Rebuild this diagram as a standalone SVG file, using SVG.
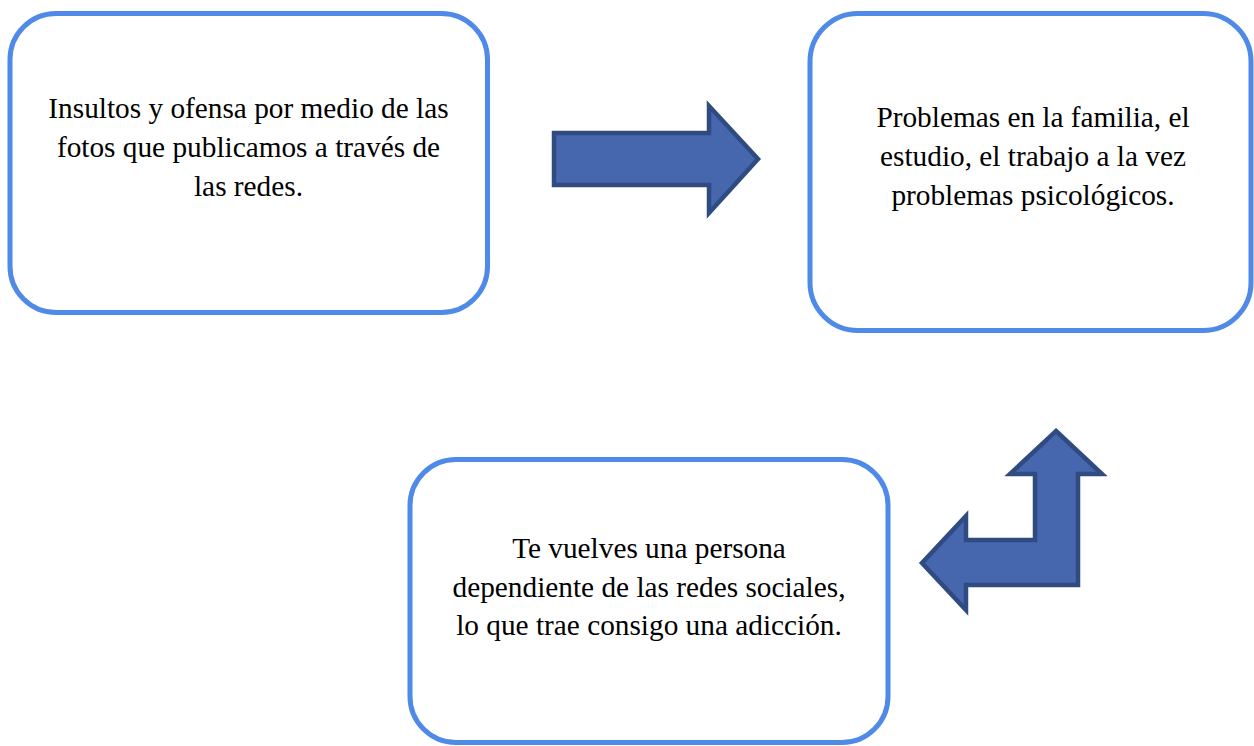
<svg xmlns="http://www.w3.org/2000/svg" width="1254" height="746" viewBox="0 0 1254 746">
<style>
.box{fill:#ffffff;stroke:#4f8ae8;stroke-width:5}
.arr{fill:#4666ad;stroke:#2f4b82;stroke-width:4.5;stroke-linejoin:miter}
.t{font-family:"Liberation Serif","Times New Roman",serif;font-size:29.3px;fill:#000;text-anchor:middle}
</style>
<rect width="1254" height="746" fill="#ffffff"/>
<g id="node1">
<rect class="box" x="10" y="13.5" width="477.5" height="299" rx="46" ry="46"/>
<text class="t"><tspan x="248.5" y="118">Insultos y ofensa por medio de las</tspan><tspan x="248.5" y="157">fotos que publicamos a través de</tspan><tspan x="248.5" y="196">las redes.</tspan></text>
</g>
<g id="node2">
<rect class="box" x="810" y="13.5" width="441" height="317" rx="48" ry="48"/>
<text class="t"><tspan x="1033" y="127">Problemas en la familia, el</tspan><tspan x="1033" y="166">estudio, el trabajo a la vez</tspan><tspan x="1033" y="205">problemas psicológicos.</tspan></text>
</g>
<g id="node3">
<rect class="box" x="410" y="459.5" width="478" height="283" rx="46" ry="46"/>
<text class="t"><tspan x="649" y="558">Te vuelves una persona</tspan><tspan x="649" y="597">dependiente de las redes sociales,</tspan><tspan x="649" y="635">lo que trae consigo una adicción.</tspan></text>
</g>
<g id="connectors">
<polygon class="arr" points="554,133 709,133 709,106 758,159 709,213 709,185 554,185"/>
<polygon class="arr" points="1056,431 1102,474 1078,474 1078,585 966,585 966,610 922,563 966,516 966,540 1035,540 1035,474 1010,474"/>
</g>
</svg>
